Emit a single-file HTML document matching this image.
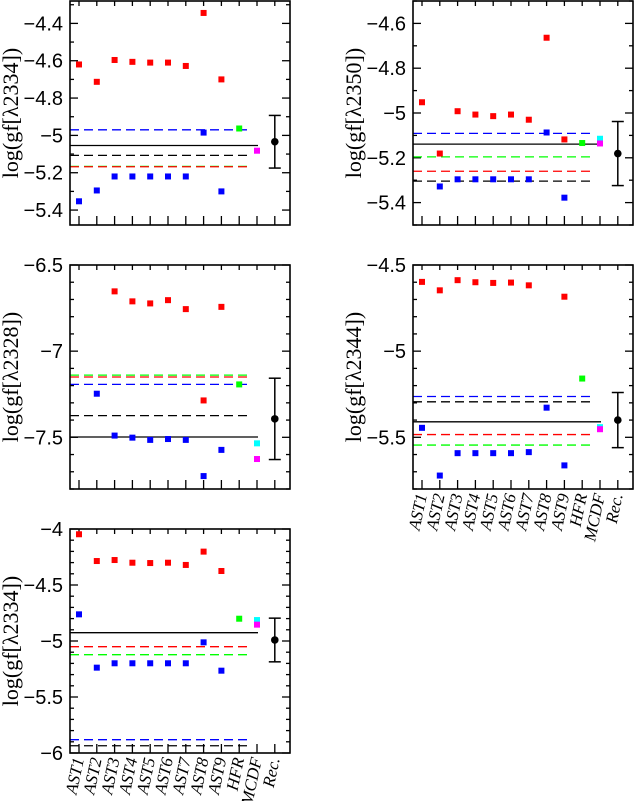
<!DOCTYPE html>
<html><head><meta charset="utf-8"><style>
html,body{margin:0;padding:0;background:#fff;}
svg{display:block;}
</style></head><body>
<svg id="chart" width="634" height="801" viewBox="0 0 634 801" xmlns="http://www.w3.org/2000/svg"></svg>
<script>
const categories = ["AST1","AST2","AST3","AST4","AST5","AST6","AST7","AST8","AST9","HFR","MCDF","Rec."];
// panel 1: λ2334
const p1Red  = [-4.62,-4.713,-4.596,-4.606,-4.61,-4.61,-4.628,-4.344,-4.70];
const p1Blue = [-5.353,-5.295,-5.22,-5.22,-5.22,-5.22,-5.22,-4.985,-5.30];
const p1Hfr = -4.963, p1Cyan = null, p1Mag = -5.082;
const p1Rec = -5.034, p1Err = 0.141;
const p1Lines = {blueDash:-4.97, solid:-5.054, blackDash:-5.107, greenDash:-5.166, redDash:-5.168};
// panel 2: λ2350
const p2Red  = [-4.952,-5.181,-4.992,-5.007,-5.014,-5.007,-5.03,-4.664,-5.118];
const p2Blue = [null,-5.328,-5.296,-5.296,-5.296,-5.296,-5.296,-5.087,-5.378];
const p2Hfr = -5.134, p2Cyan = -5.115, p2Mag = -5.136;
const p2Rec = -5.181, p2Err = 0.143;
const p2Lines = {blueDash:-5.091, solid:-5.139, greenDash:-5.196, redDash:-5.26, blackDash:-5.304};
// panel 3: λ2328
const p3Red  = [null,null,-6.653,-6.711,-6.723,-6.704,-6.756,-7.286,-6.743];
const p3Blue = [null,-7.247,-7.49,-7.502,-7.515,-7.51,-7.515,-7.725,-7.573];
const p3Hfr = -7.193, p3Cyan = -7.535, p3Mag = -7.626;
const p3Rec = -7.393, p3Err = 0.236;
const p3Lines = {greenDash:-7.139, redDash:-7.15, blueDash:-7.193, blackDash:-7.374, solid:-7.498};
// panel 4: λ2344
const p4Red  = [-4.598,-4.647,-4.588,-4.6,-4.604,-4.602,-4.618,null,-4.684];
const p4Blue = [-5.445,-5.722,-5.592,-5.592,-5.592,-5.592,-5.586,-5.328,-5.663];
const p4Hfr = -5.159, p4Cyan = -5.441, p4Mag = -5.453;
const p4Rec = -5.4, p4Err = 0.16;
const p4Lines = {blueDash:-5.263, blackDash:-5.294, solid:-5.41, redDash:-5.484, greenDash:-5.545};
// panel 5: λ2334
const p5Red  = [-4.047,-4.286,-4.277,-4.301,-4.304,-4.301,-4.321,-4.202,-4.375];
const p5Blue = [-4.762,-5.238,-5.199,-5.199,-5.199,-5.199,-5.199,-5.012,-5.265];
const p5Hfr = -4.801, p5Cyan = -4.813, p5Mag = -4.854;
const p5Rec = -4.991, p5Err = 0.195;
const p5Lines = {solid:-4.926, redDash:-5.051, greenDash:-5.122, blueDash:-5.881, blackDash:-5.935};
const p1Ticks = [-4.4,-4.6,-4.8,-5,-5.2,-5.4];
const p2Ticks = [-4.6,-4.8,-5,-5.2,-5.4];
const p3Ticks = [-6.5,-7,-7.5];
const p4Ticks = [-4.5,-5,-5.5];
const p5Ticks = [-4,-4.5,-5,-5.5,-6];

const NS="http://www.w3.org/2000/svg";
const svg=document.getElementById('chart');
function mk(tag,attrs,parent){const e=document.createElementNS(NS,tag);for(const k in attrs)e.setAttribute(k,attrs[k]);(parent||svg).appendChild(e);return e;}
const W=220,H=224;
const panels=[
 {name:'panel-2334-top',x:70,y:1,ymin:-5.48,ymax:-4.28,red:p1Red,blue:p1Blue,hfr:p1Hfr,cyan:p1Cyan,mag:p1Mag,rec:p1Rec,err:p1Err,lines:p1Lines,ticks:p1Ticks,minor:0.1,title:'log(gf[λ2334])',xl:false},
 {name:'panel-2350',x:413,y:1,ymin:-5.5,ymax:-4.5,red:p2Red,blue:p2Blue,hfr:p2Hfr,cyan:p2Cyan,mag:p2Mag,rec:p2Rec,err:p2Err,lines:p2Lines,ticks:p2Ticks,minor:0.1,title:'log(gf[λ2350])',xl:false},
 {name:'panel-2328',x:70,y:265,ymin:-7.8,ymax:-6.5,red:p3Red,blue:p3Blue,hfr:p3Hfr,cyan:p3Cyan,mag:p3Mag,rec:p3Rec,err:p3Err,lines:p3Lines,ticks:p3Ticks,minor:0.1,title:'log(gf[λ2328])',xl:false},
 {name:'panel-2344',x:413,y:265,ymin:-5.8,ymax:-4.5,red:p4Red,blue:p4Blue,hfr:p4Hfr,cyan:p4Cyan,mag:p4Mag,rec:p4Rec,err:p4Err,lines:p4Lines,ticks:p4Ticks,minor:0.1,title:'log(gf[λ2344])',xl:true},
 {name:'panel-2334-bottom',x:70,y:529,ymin:-6,ymax:-4,red:p5Red,blue:p5Blue,hfr:p5Hfr,cyan:p5Cyan,mag:p5Mag,rec:p5Rec,err:p5Err,lines:p5Lines,ticks:p5Ticks,minor:0.1,title:'log(gf[λ2334])',xl:true}
];
const lineStyles={solid:['#000',null],blackDash:['#000','9,5'],blueDash:['#0000ff','9,5'],redDash:['#ff0000','9,5'],greenDash:['#00ff00','9,5']};
panels.forEach(p=>{
 const g=mk('g',{});
 
 
 const ys=v=>p.y+(p.ymax-v)/(p.ymax-p.ymin)*H;
 const xs=i=>p.x+9+i*17.8;
 const start=Math.ceil(p.ymin/p.minor-1e-6);
 for(let k=start;k*p.minor<=p.ymax+1e-9;k++){
  const v=k*p.minor, yy=ys(v);
  const major=p.ticks.some(t=>Math.abs(t-v)<1e-6);
  const L=major?8:4;
  mk('line',{x1:p.x,x2:p.x+L,y1:yy,y2:yy,stroke:'#000','stroke-width':1.3},g);
  mk('line',{x1:p.x+W,x2:p.x+W-L,y1:yy,y2:yy,stroke:'#000','stroke-width':1.3},g);
 }
 p.ticks.forEach(t=>{
  const tx=mk('text',{x:p.x-7,y:ys(t)+7,'text-anchor':'end','font-family':'Liberation Sans, sans-serif','font-size':20,fill:'#000'},g);
  
  
  tx.textContent=(t<0?'−':'')+String(Math.abs(t));
 });
 categories.forEach((c,i)=>{
  mk('line',{x1:xs(i),x2:xs(i),y1:p.y,y2:p.y+5,stroke:'#000','stroke-width':1.3},g);
  mk('line',{x1:xs(i),x2:xs(i),y1:p.y+H,y2:p.y+H-9,stroke:'#000','stroke-width':1.3},g);
  if(p.xl){
   const t=mk('text',{x:xs(i)+5,y:p.y+H+6,'text-anchor':'end','font-family':'Liberation Serif, serif','font-style':'italic','font-size':17,transform:`rotate(-78 ${xs(i)+5} ${p.y+H+6})`},g);
   
   
   t.textContent=c;
  }
 });
 for(const k in p.lines){
  const [col,dash]=lineStyles[k];
  const ln=mk('line',{x1:p.x,x2:p.x+(dash?182:188),y1:ys(p.lines[k]),y2:ys(p.lines[k]),stroke:col,'stroke-width':1.3},g);
  if(dash) ln.setAttribute('stroke-dasharray',dash);
  
  
 }
 const sq=(i,v,col,nm)=>{if(v===null||v===undefined)return;const r=mk('rect',{x:xs(i)-3,y:ys(v)-3,width:6,height:6,fill:col},g);
  
  };
 p.red.forEach((v,i)=>sq(i,v,'#ff0000','red-point'));
 p.blue.forEach((v,i)=>sq(i,v,'#0000ff','blue-point'));
 sq(9,p.hfr,'#00ff00','hfr-point');
 sq(10,p.cyan,'#00ffff','mcdf-cyan-point');
 sq(10,p.mag,'#ff00ff','mcdf-magenta-point');
 const rx=xs(11);
 const eb=mk('g',{},g);
 
 
 mk('line',{x1:rx,x2:rx,y1:ys(p.rec+p.err),y2:ys(p.rec-p.err),stroke:'#000','stroke-width':1.5},eb);
 mk('line',{x1:rx-6,x2:rx+6,y1:ys(p.rec+p.err),y2:ys(p.rec+p.err),stroke:'#000','stroke-width':1.5},eb);
 mk('line',{x1:rx-6,x2:rx+6,y1:ys(p.rec-p.err),y2:ys(p.rec-p.err),stroke:'#000','stroke-width':1.5},eb);
 mk('circle',{cx:rx,cy:ys(p.rec),r:3.8,fill:'#000'},eb);
 const fr=mk('rect',{x:p.x,y:p.y,width:W,height:H,fill:'none',stroke:'#000','stroke-width':1.6},g);
 
 
 const cy=p.y+H/2, tx=p.x-52;
 const tt=mk('text',{x:tx,y:cy,'text-anchor':'middle','font-family':'Liberation Serif, serif','font-size':22,transform:`rotate(-90 ${tx} ${cy})`},g);
 
 
 tt.textContent=p.title;
});
</script>
</body></html>
